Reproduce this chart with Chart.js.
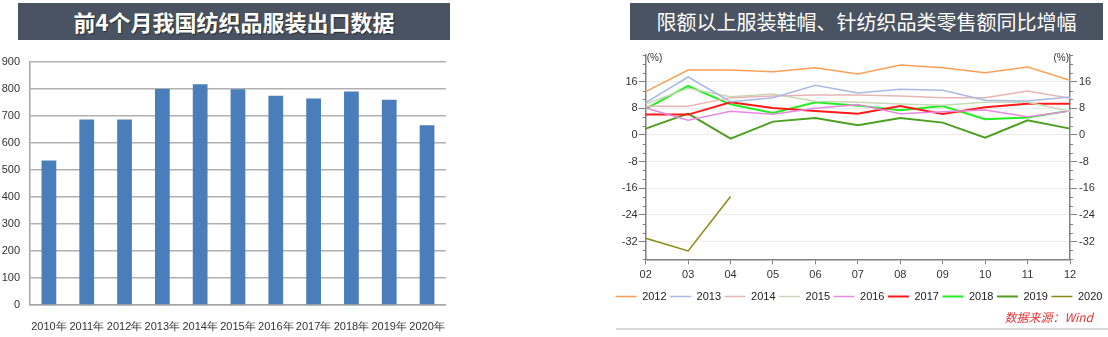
<!DOCTYPE html>
<html>
<head>
<meta charset="utf-8">
<script src="https://cdn.jsdelivr.net/npm/chart.js@4.4.1/dist/chart.umd.min.js"></script>
<style>
  body { margin: 0; width: 1108px; height: 337px; background: #fff; position: relative; overflow: hidden; font-family: "Noto Sans CJK SC", sans-serif; }
  .banner { position: absolute; top: 3px; height: 37px; line-height: 37px; background: #4a5361; color: #fff; text-align: center; white-space: nowrap; }
  #t1 { left: 18px; width: 432px; font-size: 22px; font-weight: bold; text-shadow: 1px 1px 1px rgba(0,0,0,0.45); }
  #t2 { left: 630px; width: 473px; font-size: 20px; }
  #box1 { position: absolute; left: 0; top: 50px; width: 460px; height: 287px; }
  #box2 { position: absolute; left: 600px; top: 42px; width: 508px; height: 270px; }
  #src { position: absolute; right: 15px; top: 308px; color: #f03232; font-style: italic; font-size: 12px; line-height: 18px; }
  #rule { position: absolute; left: 616px; top: 328px; width: 492px; height: 2px; background: #d9d9d9; }
</style>
</head>
<body>
<div class="banner" id="t1">前4个月我国纺织品服装出口数据</div>
<div class="banner" id="t2">限额以上服装鞋帽、针纺织品类零售额同比增幅</div>
<div id="box1"><canvas id="exportChart"></canvas></div>
<div id="box2"><canvas id="retailChart"></canvas></div>
<div id="src">数据来源：Wind</div>
<div id="rule"></div>
<script>
// 左图：前4个月出口额（亿美元）
const exportYears = ['2010年', '2011年', '2012年', '2013年', '2014年', '2015年', '2016年', '2017年', '2018年', '2019年', '2020年'];
const exportValues = [535, 687, 687, 800, 818, 799, 775, 765, 791, 760, 666];

// 右图：零售额同比增幅（%），按月
const months = ['02', '03', '04', '05', '06', '07', '08', '09', '10', '11', '12'];
const retailYears = ['2012', '2013', '2014', '2015', '2016', '2017', '2018', '2019', '2020'];
const g2012 = [13.0, 19.5, 19.5, 19.0, 20.2, 18.3, 21.0, 20.2, 18.7, 20.4, 16.4];
const g2013 = [9.7, 17.4, 10.0, 11.2, 14.9, 12.6, 13.7, 13.4, 10.4, 10.2, 11.4];
const g2014 = [8.6, 8.6, 11.2, 11.7, 12.0, 12.0, 11.7, 11.2, 11.2, 13.2, 11.0];
const g2015 = [9.3, 14.0, 11.5, 12.3, 10.1, 9.8, 9.3, 8.9, 9.8, 9.8, 7.1];
const g2016 = [8.1, 4.4, 7.1, 6.2, 8.0, 9.1, 6.4, 7.0, 7.5, 5.5, 7.2];
const g2017 = [6.1, 6.1, 9.8, 8.1, 7.2, 6.4, 8.7, 6.3, 8.3, 9.4, 9.4];
const g2018 = [7.8, 14.7, 9.2, 6.6, 9.8, 8.8, 7.4, 8.7, 4.7, 5.2, 7.3];
const g2019 = [1.9, 6.4, -1.1, 4.0, 5.1, 2.9, 5.1, 3.7, -0.8, 4.4, 1.9];
const g2020 = [-31.0, -34.8, -18.5];
const yTickValues = [16, 8, 0, -8, -16, -24, -32];

const numFont = { family: '"Liberation Sans", Arial, sans-serif', size: 11 };

new Chart(document.getElementById('exportChart'), {
  type: 'bar',
  data: {
    labels: exportYears,
    datasets: [{
      data: exportValues,
      backgroundColor: '#4a7ebb',
      categoryPercentage: 1,
      barPercentage: 0.39
    }]
  },
  options: {
    responsive: true,
    maintainAspectRatio: false,
    animation: false,
    layout: { padding: { left: 0, right: 5, top: 12, bottom: 0 } },
    plugins: { legend: { display: false }, tooltip: { enabled: false } },
    scales: {
      x: {
        grid: { display: false, drawTicks: false },
        border: { color: '#a6a6a6', width: 1.5 },
        ticks: { color: '#333', font: numFont, padding: 15, maxRotation: 0, autoSkip: false },
        afterFit: s => { s.height = 32; }
      },
      y: {
        min: 0,
        max: 900,
        grid: { color: '#b0b0b0', lineWidth: 1.5, drawTicks: false },
        border: { color: '#a6a6a6', width: 1.5 },
        ticks: { stepSize: 100, color: '#333', font: numFont, padding: 10 },
        afterFit: s => { s.width = 30; s.paddingTop = 0; s.paddingBottom = 0; }
      }
    }
  }
});

const yMin = -112 / 3, yMax = 24;

// 两侧纵轴的小刻度（每 8/3 一格）
const minorTicks = {
  id: 'minorTicks',
  afterDraw(chart) {
    const ctx = chart.ctx;
    ctx.save();
    ctx.strokeStyle = '#808080';
    ctx.lineWidth = 1;
    ['y', 'y1'].forEach(id => {
      const s = chart.scales[id];
      const x = id === 'y' ? s.right : s.left;
      const dir = id === 'y' ? -1 : 1;
      for (let i = 0; i <= 23; i++) {
        if (i > 0 && i % 3 === 0) continue;
        const py = Math.round(s.getPixelForValue(yMax - i * 8 / 3)) + 0.5;
        ctx.beginPath();
        ctx.moveTo(x, py);
        ctx.lineTo(x + dir * 3, py);
        ctx.stroke();
      }
    });
    ctx.restore();
  }
};

// 轴顶的单位 (%)
const unitLabels = {
  id: 'unitLabels',
  afterDraw(chart) {
    const ctx = chart.ctx;
    const a = chart.chartArea;
    ctx.save();
    ctx.font = '10px "Liberation Sans", Arial, sans-serif';
    ctx.fillStyle = '#333';
    ctx.textBaseline = 'middle';
    ctx.textAlign = 'left';
    ctx.fillText('(%)', a.left + 1, a.top + 3);
    ctx.textAlign = 'right';
    ctx.fillText('(%)', a.right - 1, a.top + 3);
    ctx.restore();
  }
};

function yAxis(position) {
  const left = position === 'left';
  return {
    position: position,
    min: yMin,
    max: yMax,
    afterBuildTicks: s => { s.ticks = yTickValues.map(v => ({ value: v })); },
    ticks: { color: '#333', font: numFont, padding: left ? 1 : 2, callback: v => String(v) },
    grid: { drawOnChartArea: left, color: '#ececec', lineWidth: 1, tickColor: '#808080', tickLength: 7 },
    border: { color: '#808080', width: 1.5 },
    afterFit: s => { s.width = left ? 35.7 : 38; }
  };
}

const lineSeries = [g2012, g2013, g2014, g2015, g2016, g2017, g2018, g2019, g2020];
const lineColors = ['#ff9f55', '#a8b9e3', '#e8b5b5', '#c9d9b5', '#e68ae0', '#ff1a1a', '#22ee22', '#4da021', '#8b8b12'];
const lineWidths = [1.5, 1.5, 1.5, 1.5, 1.5, 2, 2, 2, 1.5];

new Chart(document.getElementById('retailChart'), {
  type: 'line',
  data: {
    labels: months,
    datasets: lineSeries.map((d, i) => ({
      label: retailYears[i],
      data: d,
      borderColor: lineColors[i],
      backgroundColor: lineColors[i],
      borderWidth: lineWidths[i],
      pointRadius: 0,
      tension: 0,
      fill: false
    }))
  },
  options: {
    responsive: true,
    maintainAspectRatio: false,
    animation: false,
    layout: { padding: { left: 10, right: 0, top: 13, bottom: 0 } },
    plugins: {
      tooltip: { enabled: false },
      legend: {
        position: 'bottom',
        labels: {
          usePointStyle: true,
          pointStyle: 'line',
          pointStyleWidth: 21,
          padding: 3.5,
          color: '#222',
          font: { family: '"Liberation Sans", Arial, sans-serif', size: 11 }
        }
      }
    },
    scales: {
      x: {
        offset: false,
        grid: { drawOnChartArea: false, tickColor: '#808080', tickLength: 5 },
        border: { color: '#808080', width: 1.5 },
        ticks: { color: '#333', font: numFont, padding: 4.5, maxRotation: 0, autoSkip: false },
        afterFit: s => { s.height = 28.2; }
      },
      y: yAxis('left'),
      y1: yAxis('right')
    }
  },
  plugins: [minorTicks, unitLabels]
});
</script>
</body>
</html>
